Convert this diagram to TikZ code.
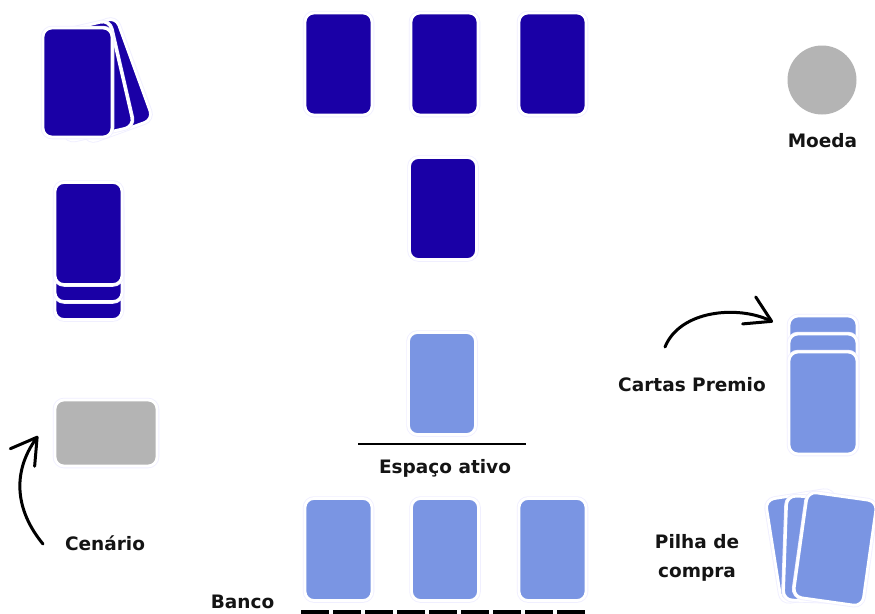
\documentclass[tikz,border=0pt]{standalone}
\usepackage{fontspec}
\setmainfont{DejaVu Sans}
\usetikzlibrary{arrows.meta}
\definecolor{cardnavy}{HTML}{1A00A6}
\definecolor{cardsky}{HTML}{7A95E3}
\definecolor{tokengray}{HTML}{B4B4B4}
\definecolor{rimlilac}{HTML}{F0EFFF}

\begin{document}
\begin{tikzpicture}[x=1pt,y=-1pt,
    card/.style={rounded corners=9pt,minimum width=67pt,minimum height=102pt,inner sep=0pt,fill=#1,draw=white,line width=2.8pt,preaction={draw=rimlilac,line width=4.5pt}},
    bigcard/.style={card=#1,minimum width=69pt,minimum height=109pt},
    tagtext/.style={font=\bfseries\fontsize{18.5}{29}\selectfont,text=black!92,align=center,inner sep=0pt},
    curvearrow/.style={line width=3pt,line cap=round,-{Straight Barb[length=25pt,width=30pt,round]}}
]
        \fill[white] (0,0) rectangle (875,613);
        \useasboundingbox (0,0) rectangle (875,613);

        % fan of cards, top left
        \node[bigcard=cardnavy,rotate=20] (fanback) at (102,80) {};
        \node[bigcard=cardnavy,rotate=13] (fanmid) at (88,81) {};
        \node[bigcard=cardnavy] (fanfront) at (77.5,82.5) {};

        % stacked deck
        \node[card=cardnavy] (deckc) at (88.5,268.5) {};
        \node[card=cardnavy] (deckb) at (88.5,250.5) {};
        \node[card=cardnavy] (decka) at (88.5,233.5) {};

        % scenario
        \node[card=tokengray,minimum width=102pt,minimum height=66pt] (cenariocard) at (106,433) {};
        \node[tagtext] (cenario) at (105,543) {Cenário};

        % opponent row
        \node[card=cardnavy] (topa) at (338.5,64) {};
        \node[card=cardnavy] (topb) at (444.5,64) {};
        \node[card=cardnavy] (topc) at (552.5,64) {};
        \node[card=cardnavy] (topactive) at (443,208.5) {};

        % coin
        \node[circle,fill=tokengray,minimum size=69pt,inner sep=0pt] (moedacoin) at (822,80) {};
        \node[tagtext] (moeda) at (822.5,141) {Moeda};

        % active spot
        \node[card=cardsky] (active) at (442,383.5) {};
        \draw[line width=2.6pt] (358,444) -- (526,444);
        \node[tagtext] (espaco) at (445,468) {Espaço ativo};

        % bench
        \node[card=cardsky] (bancoa) at (338.5,549.5) {};
        \node[card=cardsky] (bancob) at (445,549.5) {};
        \node[card=cardsky] (bancoc) at (552.5,549.5) {};
        \node[tagtext] (banco) at (242.5,602) {Banco};
        \draw[line width=5pt,dash pattern=on 27.5pt off 4.5pt] (301,612) -- (585,612);

        % prize cards
        \node[card=cardsky,minimum width=68pt] (premioc) at (823,367) {};
        \node[card=cardsky,minimum width=68pt] (premiob) at (823,385) {};
        \node[card=cardsky,minimum width=68pt] (premioa) at (823,403) {};
        \node[tagtext] (premio) at (692,385) {Cartas Premio};

        % draw pile
        \node[card=cardsky,minimum width=68pt,minimum height=104pt,rotate=9] (pilhac) at (807,546) {};
        \node[card=cardsky,minimum width=68pt,minimum height=104pt,rotate=-2] (pilhab) at (819,549) {};
        \node[card=cardsky,minimum width=70pt,minimum height=106pt,rotate=-8] (pilhaa) at (835,549) {};
        \node[tagtext] (pilha) at (697,558) {Pilha de\\compra};

        % arrows
        \coordinate (cenariotail) at (43,544);
        \coordinate (cenariotip) at (38,436);
        \coordinate (premiotail) at (665,347);
        \coordinate (premiotip) at (773,322);
        \draw[curvearrow] (cenariotail) .. controls +(-28,-34) and +(-26,36) .. (cenariotip);
        \draw[curvearrow] (premiotail) .. controls +(15,-37) and +(-35,-17) .. (premiotip);
\end{tikzpicture}
\end{document}
